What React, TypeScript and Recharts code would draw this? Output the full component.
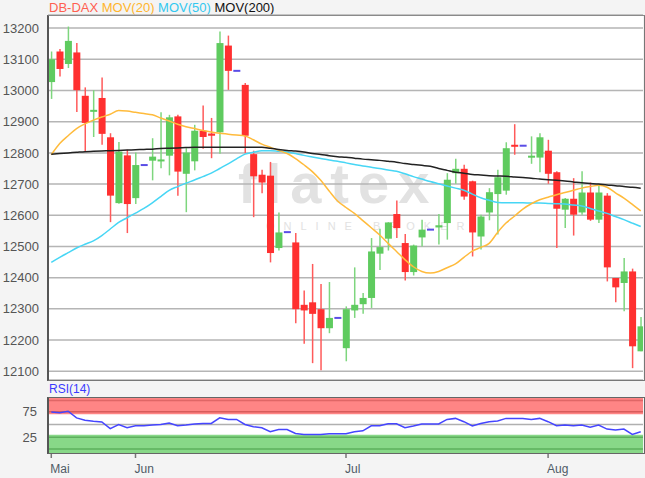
import React from 'react';
import { ComposedChart, Bar, Line, XAxis, YAxis, CartesianGrid, ReferenceArea, ReferenceLine } from 'recharts';

// OHLC data (one per trading slot); doji slots flagged
const opens = [13027,13125,13085,13122,12983,12932,12976,12850,12639,12792,12655,12761,12775,12774,12791,12917,12733,12773,12871,12862,12866,13144,13063,13018,12796,12730,12727,12495,12546,12513,12313,12321,12299,12238,12271,12174,12295,12315,12335,12477,12525,12604,12511,12418,12529,12554,12561,12575,12735,12749,12709,12532,12609,12668,12679,12826,12823,12788,12785,12807,12738,12618,12653,12609,12673,12586,12663,12399,12383,12420,12164];
const highs = [13125,13133,13205,13152,13010,13001,13042,12863,12835,12810,12801,12761,12847,12930,12922,12922,12815,12890,12952,12912,13189,13176,13063,13024,12807,12746,12771,12609,12546,12543,12359,12444,12380,12386,12271,12308,12433,12351,12527,12557,12578,12647,12540,12506,12586,12554,12604,12735,12781,12762,12711,12602,12687,12746,12834,12892,12823,12853,12863,12842,12741,12655,12719,12741,12705,12698,12671,12399,12463,12429,12274];
const lows = [12973,13045,13072,12931,12805,12851,12826,12578,12637,12543,12636,12761,12712,12751,12728,12663,12610,12744,12813,12783,12797,13002,13063,12799,12594,12671,12449,12487,12546,12254,12188,12126,12103,12222,12271,12132,12271,12284,12303,12425,12487,12527,12391,12407,12500,12554,12506,12522,12701,12650,12468,12490,12584,12538,12666,12794,12823,12765,12738,12701,12495,12559,12535,12602,12582,12575,12388,12321,12292,12110,12164];
const closes = [13100,13069,13159,13001,12896,12938,12861,12663,12804,12636,12761,12761,12788,12779,12914,12740,12801,12871,12851,12855,13152,13063,13063,12855,12725,12705,12479,12545,12546,12299,12295,12284,12238,12271,12271,12299,12313,12335,12484,12498,12577,12559,12418,12503,12554,12554,12568,12714,12749,12660,12545,12596,12674,12722,12815,12821,12823,12791,12850,12733,12621,12653,12602,12673,12586,12673,12433,12369,12420,12180,12244];
const dojiSlots = [11, 22, 28, 34, 45, 56];

const mov20 = [12794,12830,12855,12878,12893,12905,12915,12924,12936,12934,12930,12926,12922,12912,12902,12892,12884,12878,12872,12867,12863,12860,12857,12854,12842,12828,12818,12808,12798,12782,12762,12740,12712,12678,12646,12625,12606,12583,12560,12537,12510,12484,12458,12435,12420,12415,12420,12432,12444,12465,12485,12497,12510,12545,12575,12597,12620,12637,12650,12658,12666,12673,12680,12687,12692,12696,12690,12672,12655,12635,12614];
const mov50 = [12449,12465,12480,12495,12507,12518,12535,12556,12577,12592,12607,12622,12640,12660,12680,12692,12703,12713,12724,12735,12750,12765,12781,12796,12802,12807,12807,12805,12803,12798,12792,12787,12782,12777,12773,12768,12763,12758,12754,12750,12745,12741,12733,12724,12716,12708,12701,12694,12687,12680,12668,12656,12648,12641,12640,12640,12640,12639,12639,12638,12637,12636,12633,12630,12622,12614,12606,12596,12586,12575,12564];
const mov200 = [12796,12798,12800,12802,12804,12805,12806,12807,12808,12809,12810,12811,12812,12814,12815,12816,12817,12818,12818,12818,12818,12818,12818,12818,12818,12818,12815,12811,12808,12806,12803,12798,12795,12791,12788,12786,12783,12780,12778,12776,12773,12770,12766,12763,12760,12757,12750,12744,12738,12735,12731,12729,12727,12726,12725,12723,12721,12719,12716,12714,12712,12710,12707,12704,12702,12700,12697,12695,12692,12690,12687];
const rsi14 = [74.7,73,76,63,58.5,56.5,55,42,50,43.5,47.5,47.5,48.8,50,53,47.5,49,51,52,52,63,60,60,50,45.5,43.5,35.7,40,40,32.4,30.4,30.4,30.4,32,32,32,35.7,37.6,47.5,47.5,51.5,51.5,43.5,47,51,51,51,60,62,55.5,47,52,55.5,57,62,62,62,60,62,55.5,47.5,49,47.5,49,44.5,49,41,39,41,30.4,35.7];

const monthTicks = [0, 10, 35, 59];
const monthLabels = ['Mai', 'Jun', 'Jul', 'Aug'];
const priceTicks = [12100, 12200, 12300, 12400, 12500, 12600, 12700, 12800, 12900, 13000, 13100, 13200];
const rsiTicks = [25, 75];

const data = opens.map((o, i) => {
  const doji = dojiSlots.includes(i);
  return {
    i,
    open: o,
    high: highs[i],
    low: lows[i],
    close: closes[i],
    doji,
    range: doji ? [lows[i] - 0.5, highs[i] + 0.5] : [lows[i], highs[i]],
    m20: mov20[i],
    m50: mov50[i],
    m200: mov200[i],
    rsi: rsi14[i],
  };
});

const X_DOMAIN: [number, number] = [-0.39, 70.27];

const Candle = (props: any) => {
  const { x, y, width, height, payload } = props;
  if (payload == null || x == null) return null;
  const cx = x + width / 2;
  if (payload.doji) {
    const yy = y + height / 2;
    return <line x1={cx - 3.5} x2={cx + 3.5} y1={yy} y2={yy} stroke="#5a4de6" strokeWidth={2} />;
  }
  const { open, close, high, low } = payload;
  const k = height / (high - low);
  const yOf = (v: number) => y + (high - v) * k;
  const up = close >= open;
  const top = yOf(Math.max(open, close));
  const bot = yOf(Math.min(open, close));
  return (
    <g>
      <line x1={cx} x2={cx} y1={y} y2={y + height} stroke={up ? '#7ed67e' : '#ff5a5a'} strokeWidth={1.5} />
      <rect x={cx - 3.5} y={top} width={7} height={Math.max(bot - top, 2)} fill={up ? '#5fcb5f' : '#ff3030'} />
    </g>
  );
};

const MonthTick = (props: any) => {
  const { x, y, payload } = props;
  const k = monthTicks.indexOf(payload.value);
  return (
    <text x={x - 1} y={y + 13} textAnchor="start" fontSize={12} fill="#4f5b66" fontFamily="Liberation Sans, Arial, sans-serif">
      {k >= 0 ? monthLabels[k] : ''}
    </text>
  );
};

export default function App() {
  const font = 'Liberation Sans, Arial, sans-serif';
  return (
    <div style={{ position: 'absolute', left: 0, top: 0, width: 645, height: 478, background: '#f4f4f4', overflow: 'hidden', fontFamily: font }}>
      {/* legend */}
      <div style={{ position: 'absolute', left: 49, top: 0, fontSize: 13, whiteSpace: 'nowrap', lineHeight: '16px' }}>
        <span style={{ color: '#ff5f50' }}>DB-DAX</span>{' '}
        <span style={{ color: '#ffb52e' }}>MOV(20)</span>{' '}
        <span style={{ color: '#33c8f0' }}>MOV(50)</span>{' '}
        <span style={{ color: '#111111' }}>MOV(200)</span>
      </div>
      {/* main plot background */}
      <div style={{ position: 'absolute', left: 48, top: 15, width: 595, height: 365, background: '#ffffff' }} />
      {/* watermark */}
      <div style={{ position: 'absolute', left: 238, top: 156, fontSize: 56, color: '#e2e2e2', letterSpacing: 9, fontFamily: font, fontWeight: 700, lineHeight: '56px', whiteSpace: 'nowrap' }}>flatex</div>
      <div style={{ position: 'absolute', left: 266, top: 220, fontSize: 11, color: '#e2e2e2', letterSpacing: 9, fontFamily: font, lineHeight: '12px', whiteSpace: 'nowrap' }}>ONLINE BROKER</div>
      <div style={{ position: 'absolute', left: 0, top: 0 }}>
        <ComposedChart width={645} height={382} data={data} margin={{ top: 15, right: 2, bottom: 2, left: 0 }}>
          <CartesianGrid horizontal vertical={false} stroke="#b5b5b5" strokeWidth={1.5} />
          <XAxis dataKey="i" type="number" domain={X_DOMAIN} allowDataOverflow hide />
          <YAxis
            type="number"
            domain={[12072, 13242]}
            allowDataOverflow
            ticks={priceTicks}
            width={48}
            axisLine={false}
            tickLine={false}
            tickMargin={3}
            tick={{ fontSize: 13, fill: '#555555', fontFamily: font }}
          />
          <Line dataKey="m50" type="monotone" stroke="#47d6f5" strokeWidth={1.5} dot={false} isAnimationActive={false} />
          <Line dataKey="m20" type="monotone" stroke="#ffbb3c" strokeWidth={1.5} dot={false} isAnimationActive={false} />
          <Line dataKey="m200" type="monotone" stroke="#222222" strokeWidth={1.5} dot={false} isAnimationActive={false} />
          <Bar dataKey="range" barSize={7} shape={<Candle />} isAnimationActive={false} />
        </ComposedChart>
      </div>
      {/* main frame */}
      <div style={{ position: 'absolute', left: 47, top: 15, width: 595, height: 364, borderTop: '1px solid #8a8a8a', borderRight: '1px solid #777', borderBottom: '1px solid #777', borderLeft: '2px solid #555', pointerEvents: 'none' }} />

      {/* RSI */}
      <div style={{ position: 'absolute', left: 49, top: 382, fontSize: 12, color: '#3a3aff', lineHeight: '14px' }}>RSI(14)</div>
      <div style={{ position: 'absolute', left: 48, top: 397, width: 595, height: 56, background: '#ffffff' }} />
      <div style={{ position: 'absolute', left: 0, top: 380 }}>
        <ComposedChart width={645} height={98} data={data} margin={{ top: 17, right: 2, bottom: 0, left: 0 }}>
          <ReferenceArea y1={70} y2={105} fill="#ff8585" fillOpacity={1} stroke="none" ifOverflow="hidden" />
          <ReferenceArea y1={-6} y2={30} fill="#88d888" fillOpacity={1} stroke="none" ifOverflow="hidden" />
          <ReferenceLine y={97} stroke="#e06666" strokeWidth={1.5} />
          <ReferenceLine y={75} stroke="#d85c5c" strokeWidth={1.5} />
          <ReferenceLine y={50} stroke="#b0b0b0" strokeWidth={1.5} />
          <ReferenceLine y={25} stroke="#5db05d" strokeWidth={1.5} />
          <ReferenceLine y={2} stroke="#5db05d" strokeWidth={1.5} />
          <XAxis
            dataKey="i"
            type="number"
            domain={X_DOMAIN}
            allowDataOverflow
            ticks={monthTicks}
            height={25}
            axisLine={false}
            tickLine={{ stroke: '#777', strokeWidth: 1.5 }}
            tickSize={5}
            tick={<MonthTick />}
          />
          <YAxis
            type="number"
            domain={[-6, 104]}
            allowDataOverflow
            ticks={rsiTicks}
            width={48}
            axisLine={false}
            tickLine={false}
            tickMargin={5}
            tick={{ fontSize: 13, fill: '#555555', fontFamily: font }}
          />
          <Line dataKey="rsi" type="linear" stroke="#4545ff" strokeWidth={1.5} dot={false} isAnimationActive={false} />
        </ComposedChart>
      </div>
      <div style={{ position: 'absolute', left: 47, top: 397, width: 595, height: 55, border: '1px solid #666', borderLeft: '2px solid #555', pointerEvents: 'none' }} />
    </div>
  );
}
